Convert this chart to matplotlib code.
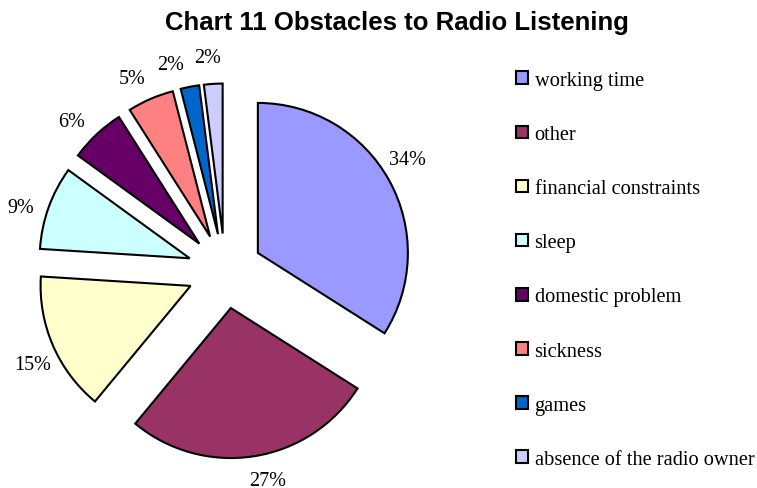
import numpy as np
import matplotlib.pyplot as plt
from matplotlib.patches import Patch
from matplotlib.font_manager import FontProperties

categories = ["working time", "other", "financial constraints", "sleep",
              "domestic problem", "sickness", "games", "absence of the radio owner"]
shares = [34, 27, 15, 9, 6, 5, 2, 2]
colours = ["#9999FF", "#993366", "#FFFFCC", "#CCFFFF",
           "#660066", "#FF8080", "#0066CC", "#CCCCFF"]

W, H = 757, 489
fig = plt.figure(figsize=(W / 100, H / 100), dpi=100)

# pie axes: centre at (225, 272) px from top-left, radius 150 px
R = 150
cx, cy = 225, H - 272
ax = fig.add_axes([(cx - 1.5 * R) / W, (cy - 1.4 * R) / H, 3 * R / W, 2.8 * R / H])

explode = 0.25
wedges, _ = ax.pie(
    shares,
    colors=colours,
    explode=[explode] * len(shares),
    startangle=90,
    counterclock=False,
    wedgeprops=dict(edgecolor="black", linewidth=1.5),
)

# label angles: wedge middles, nudged counter-clockwise, then spread apart
# where two neighbouring labels would crowd each other
angles = [(w.theta1 + w.theta2) / 2 + 2.5 for w in wedges]
min_sep = 10.0
for i in range(len(angles) - 1):
    gap = angles[i] - angles[i + 1]  # wedges run clockwise, so this is positive
    if gap < min_sep:
        push = (min_sep - gap) / 2
        angles[i] += push
        angles[i + 1] -= push

r = explode + 1.175
for a, v in zip(angles, shares):
    t = np.deg2rad(a)
    ax.text(r * np.cos(t), r * np.sin(t), f"{v}%", ha="center", va="center",
            family="Liberation Serif", fontsize=14.5, color="black")

ax.set_xlim(-1.5, 1.5)
ax.set_ylim(-1.4, 1.4)
ax.axis("off")

fig.suptitle("Chart 11 Obstacles to Radio Listening", x=397 / W, y=1 - 23 / H,
             va="center", fontsize=18.5, fontweight="bold", family="Liberation Sans")

handles = [Patch(facecolor=c, edgecolor="black", linewidth=1.5) for c in colours]
fig.legend(handles, categories, loc="upper left", bbox_to_anchor=(516 / W, 1 - 72 / H),
           frameon=False, prop=FontProperties(family="Liberation Serif", size=14.7),
           handlelength=0.58, handleheight=0.58, handletextpad=0.33,
           labelspacing=1.72, borderpad=0, borderaxespad=0)

fig.savefig("out.png", dpi=100)
